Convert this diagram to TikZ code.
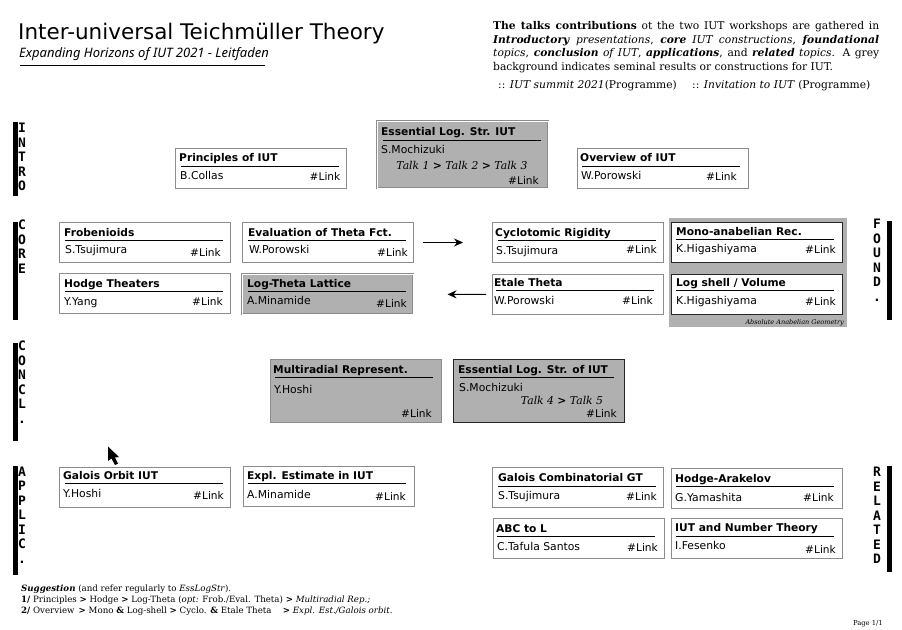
\documentclass[tikz,border=0pt]{standalone}
\usepackage{fontspec}
\usetikzlibrary{arrows.meta}
\setmainfont{DejaVu Sans}
\newfontfamily\bodyfont{DejaVu Serif}
\newfontfamily\subfont{Noto Sans}
\newfontfamily\sidefont{DejaVu Sans Mono}
\definecolor{panel}{HTML}{B0B0B0}
\definecolor{edge}{HTML}{8C8C8C}
\tikzstyle{talk} = [draw=edge, line width=1pt, anchor=north west, inner sep=0pt, minimum width=171pt, minimum height=40pt, fill=white]
\tikzstyle{seminal} = [talk, fill=panel]
\tikzstyle{strong} = [draw=black!85]
\tikzstyle{halo} = [double=white, double distance=.7pt, line width=.5pt]
\tikzstyle{head} = [anchor=base west, inner sep=0pt, font=\fontsize{10.65}{12}\selectfont\bfseries]
\tikzstyle{who} = [anchor=base west, inner sep=0pt, font=\fontsize{10.8}{12}\selectfont]
\tikzstyle{link} = [anchor=base east, inner sep=0pt, font=\fontsize{10.6}{12}\selectfont]
\tikzstyle{bar} = [anchor=west, inner sep=0pt, minimum width=158pt, minimum height=1pt, fill=black]
\tikzstyle{side} = [fill=black, anchor=north west, inner sep=0pt, minimum width=4.5pt]
\tikzstyle{letters} = [anchor=north, inner sep=0pt, align=center, font=\fontsize{13}{14.5}\selectfont\sidefont\bfseries]
\tikzstyle{prose} = [anchor=base west, inner sep=0pt, font=\fontsize{10.7}{13.4}\selectfont\bodyfont]
\tikzstyle{talks} = [anchor=base, inner sep=0pt, font=\fontsize{10.8}{12}\selectfont\bodyfont\itshape]
\tikzstyle{pointsto} = [-{Stealth[length=9pt,width=8pt]}, line width=1.1pt, yshift=1pt]

\begin{document}
\begin{tikzpicture}[x=1pt, y=-1pt]
    \useasboundingbox (0,0) rectangle (902,629);
    % heading
    \node [anchor=base west, inner sep=0pt, font=\fontsize{21.5}{26}\selectfont] (title) at (18,39) {Inter-universal Teichmüller Theory};
    \node [anchor=base west, inner sep=0pt, font=\fontsize{13}{14}\selectfont\subfont\itshape] (subtitle) at (19,57) {Expanding Horizons of IUT 2021 - Leitfaden};
    \node [bar, minimum width=245pt] (titlebar) at (20,65) {};
    \node [prose, anchor=north west, text width=386pt, align=justify] (intro) at (493,21.5) {\textbf{The talks contributions} ot the two IUT workshops are gathered in\linebreak \textbf{\textit{Introductory}} \textit{presentations}, \textbf{\textit{core}} \textit{IUT constructions}, \textbf{\textit{foundational}}\linebreak \textit{topics}, \textbf{\textit{conclusion}} \textit{of IUT}, \textbf{\textit{applications}}, and \textbf{\textit{related}} \textit{topics}. A grey\linebreak background indicates seminal results or constructions for IUT.};
    \node [prose] (summit) at (498,88) {:: \textit{IUT summit 2021}(Programme)};
    \node [prose] (invite) at (692,88.5) {:: \textit{Invitation to IUT} (Programme)};

    % side labels
    \node [side, minimum height=74pt] (introbar) at (13,122) {};
    \node [letters] (introtxt) at (22,123) {I\\N\\T\\R\\O};
    \node [side, minimum height=98pt] (corebar) at (13,222) {};
    \node [letters] (coretxt) at (22,220) {C\\O\\R\\E};
    \node [side, minimum height=98pt] (conclbar) at (13,343) {};
    \node [letters] (concltxt) at (22,341) {C\\O\\N\\C\\L\\.};
    \node [side, minimum height=109pt] (applicbar) at (13,466) {};
    \node [letters] (applictxt) at (22,466.5) {A\\P\\P\\L\\I\\C\\.};
    \node [side, minimum height=99pt] (foundbar) at (887,221) {};
    \node [letters] (foundtxt) at (877,219) {F\\O\\U\\N\\D\\.};
    \node [side, minimum height=106pt] (relatedbar) at (887,466) {};
    \node [letters] (relatedtxt) at (877,467) {R\\E\\L\\A\\T\\E\\D};

    % panel behind the two anabelian talks
    \node [fill=panel, anchor=north west, inner sep=0pt, minimum width=178pt, minimum height=109pt] (anabelian) at (669,218) {};
    \node [anchor=base east, inner sep=0pt, font=\fontsize{6.5}{8}\selectfont\bodyfont\itshape] (anabeliantxt) at (844,324) {Absolute Anabelian Geometry};

    % intro
    \node [talk] (princ) at (175,148) {};
    \node [head] at (179,161.5) {Principles of IUT};
    \node [bar] at (181,166) {};
    \node [who] at (180,179) {B.Collas};
    \node [link] at (340.5,180) {\#Link};

    \node [seminal, halo, minimum height=67pt] (ess) at (377,121) {};
    \node [head] at (381,135.5) {Essential Log. Str. IUT};
    \node [bar] at (383,140) {};
    \node [who] at (381,153) {S.Mochizuki};
    \node [talks] at (462,169) {Talk 1 \textbf{>} Talk 2 \textbf{>} Talk 3};
    \node [link] at (539,184) {\#Link};

    \node [talk] (over) at (577,148) {};
    \node [head] at (580,161.5) {Overview of IUT};
    \node [bar] at (582,166) {};
    \node [who] at (581,179) {W.Porowski};
    \node [link] at (737,180) {\#Link};

    % core
    \node [talk] (frob) at (59,222) {};
    \node [head] at (64,236) {Frobenioids};
    \node [bar] at (65,240) {};
    \node [who] at (65,253) {S.Tsujimura};
    \node [link] at (221,256) {\#Link};

    \node [talk] (evalf) at (241.5,222) {};
    \node [head] at (248,236) {Evaluation of Theta Fct.};
    \node [bar] at (248,240) {};
    \node [who] at (249,253) {W.Porowski};
    \node [link] at (408,256) {\#Link};

    \node [talk] (hodge) at (59,273) {};
    \node [head] at (64,287.5) {Hodge Theaters};
    \node [bar] at (65,291) {};
    \node [who] at (64,305) {Y.Yang};
    \node [link] at (223,305) {\#Link};

    \node [seminal, halo] (lattice) at (242,274) {};
    \node [head] at (247,287.5) {Log-Theta Lattice};
    \node [bar] at (248,291) {};
    \node [who] at (247,304) {A.Minamide};
    \node [link] at (407,307) {\#Link};

    \node [talk] (cyclo) at (492,222) {};
    \node [head] at (495,236) {Cyclotomic Rigidity};
    \node [bar] at (498,240) {};
    \node [who] at (496,254) {S.Tsujimura};
    \node [link] at (657,253) {\#Link};

    \node [talk] (etale) at (492,274) {};
    \node [head] at (494,286) {Etale Theta};
    \node [bar] at (496,290) {};
    \node [who] at (494,304) {W.Porowski};
    \node [link] at (653,304) {\#Link};

    \node [talk, strong] (mono) at (671,222) {};
    \node [head] at (676,235) {Mono-anabelian Rec.};
    \node [bar] at (676,239) {};
    \node [who] at (676,252) {K.Higashiyama};
    \node [link] at (836,253) {\#Link};

    \node [talk, strong] (shell) at (671,273.5) {};
    \node [head] at (676,286) {Log shell / Volume};
    \node [bar] at (676,290) {};
    \node [who] at (676,304) {K.Higashiyama};
    \node [link] at (836,305) {\#Link};

    \draw [pointsto, shorten <=9pt, shorten >=29pt] (evalf) -- (cyclo);
    \draw [pointsto, shorten <=6pt, shorten >=34pt] (etale) -- (lattice);

    % conclusion
    \node [seminal, minimum height=63pt] (multi) at (270,359) {};
    \node [head] at (273,373) {Multiradial Represent.};
    \node [bar] at (275,377) {};
    \node [who] at (274,393) {Y.Hoshi};
    \node [link] at (432,417) {\#Link};

    \node [seminal, strong, minimum height=63pt] (ess2) at (453,359) {};
    \node [head] at (458,373) {Essential Log. Str. of IUT};
    \node [bar, minimum width=154pt] at (460,377) {};
    \node [who] at (459,391) {S.Mochizuki};
    \node [talks] at (562,404) {Talk 4 \textbf{>} Talk 5};
    \node [link] at (617,417) {\#Link};

    % applications
    \node [talk] (orbit) at (59,466.5) {};
    \node [head] at (63,479.5) {Galois Orbit IUT};
    \node [bar] at (65,483) {};
    \node [who] at (63,497) {Y.Hoshi};
    \node [link] at (224,499) {\#Link};

    \node [talk] (expl) at (243,466) {};
    \node [head] at (247,479.5) {Expl. Estimate in IUT};
    \node [bar] at (248,483) {};
    \node [who] at (247,498) {A.Minamide};
    \node [link] at (406,500) {\#Link};

    % related
    \node [talk] (comb) at (492,467) {};
    \node [head] at (498,481.5) {Galois Combinatorial GT};
    \node [bar] at (498,486) {};
    \node [who] at (498,499) {S.Tsujimura};
    \node [link] at (657,500) {\#Link};

    \node [talk] (arak) at (671,468) {};
    \node [head] at (675,482) {Hodge-Arakelov};
    \node [bar] at (676,486) {};
    \node [who] at (675,501) {G.Yamashita};
    \node [link] at (834,501) {\#Link};

    \node [talk] (abc) at (493,518) {};
    \node [head] at (496,532) {ABC to L};
    \node [bar] at (497,536) {};
    \node [who] at (497,550) {C.Tafula Santos};
    \node [link] at (658,551) {\#Link};

    \node [talk] (number) at (671,518) {};
    \node [head] at (675,531.5) {IUT and Number Theory};
    \node [bar] at (676,536) {};
    \node [who] at (675,549) {I.Fesenko};
    \node [link] at (836,553) {\#Link};

    % reading order and page mark
    \node [anchor=north west, inner sep=0pt, align=left, font=\fontsize{8.65}{10.9}\selectfont\bodyfont] (advice) at (21,584.5) {\textbf{\textit{Suggestion}} (and refer regularly to \textit{EssLogStr}).\\\textbf{1/} Principles \textbf{>} Hodge \textbf{>} Log-Theta (\textit{opt:} Frob./Eval. Theta) \textbf{>} \textit{Multiradial Rep.;}\\\textbf{2/} Overview \,\textbf{>} Mono \textbf{\&} Log-shell \textbf{>} Cyclo. \textbf{\&} Etale Theta \quad\textbf{>} \textit{Expl. Est./Galois orbit.}};
    \node [anchor=base east, inner sep=0pt, font=\fontsize{6.8}{8}\selectfont\bodyfont] (page) at (883,625) {Page 1/1};

    % pointer
    \fill (108,446.5) -- (108,461) -- (111.5,458.5) -- (115,465) -- (118,463.5) -- (115,457.5) -- (119,457) -- cycle;
\end{tikzpicture}
\end{document}
